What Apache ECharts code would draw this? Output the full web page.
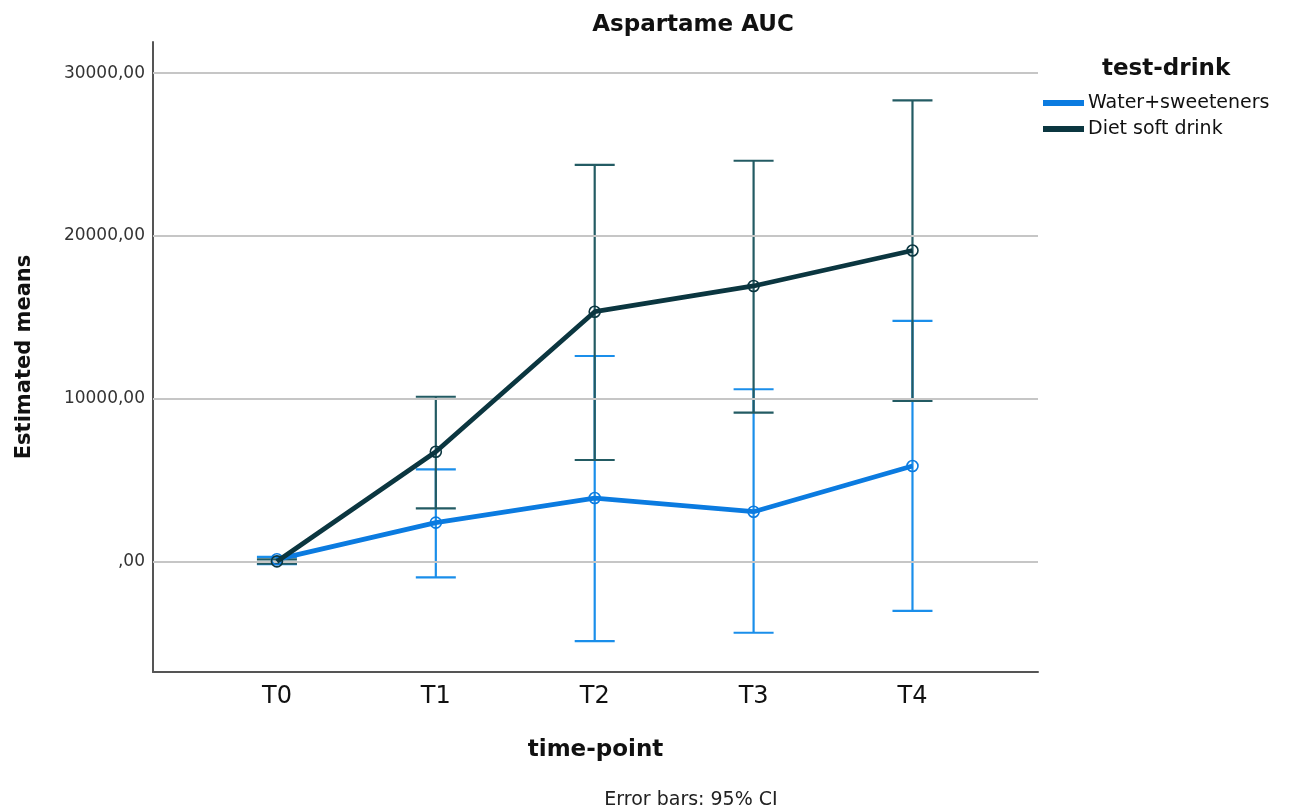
<!DOCTYPE html>
<html>
<head>
<meta charset="utf-8">
<script src="https://cdn.jsdelivr.net/npm/echarts@6/dist/echarts.min.js"></script>
<style>html,body{margin:0;padding:0;background:#fff}#c{width:1292px;height:810px}</style>
</head>
<body>
<div id="c"></div>
<script>
// ---- data ----
const categories = ['T0', 'T1', 'T2', 'T3', 'T4'];
const waterMean = [150, 2400, 3910, 3070, 5880];
const waterLow  = [-150, -960, -4870, -4360, -3020];
const waterHigh = [300, 5670, 12630, 10590, 14790];
const dietMean  = [20, 6755, 15350, 16930, 19110];
const dietLow   = [-120, 3280, 6245, 9150, 9870];
const dietHigh  = [150, 10130, 24360, 24620, 28330];
const yTickValues = [0, 10000, 20000, 30000];
const yTickLabels = [',00', '10000,00', '20000,00', '30000,00'];
const seriesNames = ['Water+sweeteners', 'Diet soft drink'];

const FONT = 'DejaVu Sans';
const waterColor = '#0b7be0';
const waterBarColor = '#1a8eea';
const dietColor = '#0b3640';
const dietBarColor = '#235b63';

const xIdx = categories.map((c, i) => i);

function errData(lo, hi) { return xIdx.map(i => [i, lo[i], hi[i]]); }
function errRender(color) {
  return function (params, api) {
    const x = api.value(0);
    const pLo = api.coord([x, api.value(1)]);
    const pHi = api.coord([x, api.value(2)]);
    const hw = 20;
    const st = { stroke: color, lineWidth: 2.2 };
    return {
      type: 'group',
      children: [
        { type: 'line', shape: { x1: pLo[0], y1: pLo[1], x2: pHi[0], y2: pHi[1] }, style: st },
        { type: 'line', shape: { x1: pLo[0] - hw, y1: pLo[1], x2: pLo[0] + hw, y2: pLo[1] }, style: st },
        { type: 'line', shape: { x1: pHi[0] - hw, y1: pHi[1], x2: pHi[0] + hw, y2: pHi[1] }, style: st }
      ]
    };
  };
}

const chart = echarts.init(document.getElementById('c'), null, { renderer: 'canvas' });
chart.setOption({
  animation: false,
  backgroundColor: '#fff',
  textStyle: { fontFamily: FONT },
  title: [
    { text: 'Aspartame AUC', left: 688, top: 9, textAlign: 'center',
      textStyle: { fontFamily: FONT, fontWeight: 'bold', fontSize: 23, color: '#111' } },
    { text: 'test-drink', left: 1097, top: 53,
      textStyle: { fontFamily: FONT, fontWeight: 'bold', fontSize: 23, color: '#111' } },
    { text: 'Error bars: 95% CI', left: 686, top: 786, textAlign: 'center',
      textStyle: { fontFamily: FONT, fontWeight: 'normal', fontSize: 19, color: '#222' } }
  ],
  legend: {
    orient: 'vertical', left: 1043, top: 93, itemGap: 6, padding: 0,
    itemWidth: 39, itemHeight: 4, icon: 'rect',
    data: [
      { name: seriesNames[0], itemStyle: { color: waterColor } },
      { name: seriesNames[1], itemStyle: { color: dietColor } }
    ],
    textStyle: { fontFamily: FONT, fontSize: 19, color: '#111', lineHeight: 20 }
  },
  grid: { left: 153, right: 254, top: 42, bottom: 138 },
  xAxis: {
    type: 'value', min: -0.78, max: 4.79,
    name: 'time-point', nameLocation: 'middle', nameGap: 67,
    nameTextStyle: { fontFamily: FONT, fontWeight: 'bold', fontSize: 23, color: '#111' },
    axisLine: { show: true, onZero: false, lineStyle: { color: '#555', width: 2 } },
    axisTick: { show: false },
    splitLine: { show: false },
    axisLabel: {
      customValues: xIdx,
      formatter: v => categories[Math.round(v)],
      fontFamily: FONT, fontSize: 24, color: '#111', margin: 13
    }
  },
  yAxis: {
    type: 'value', min: -6770, max: 31910,
    name: 'Estimated means', nameLocation: 'middle', nameGap: 118,
    nameTextStyle: { fontFamily: FONT, fontWeight: 'bold', fontSize: 21, color: '#111' },
    axisLine: { show: true, onZero: false, lineStyle: { color: '#555', width: 2 } },
    axisTick: { show: false },
    splitLine: { show: false },
    axisLabel: {
      customValues: yTickValues,
      formatter: v => yTickLabels[yTickValues.indexOf(v)],
      fontFamily: FONT, fontSize: 17, color: '#333', margin: 8
    }
  },
  series: [
    {
      type: 'line', name: '_grid', data: [], silent: true,
      markLine: {
        symbol: 'none', silent: true, label: { show: false },
        lineStyle: { color: '#c6c6c6', width: 2, type: 'solid' },
        data: yTickValues.map(v => ({ yAxis: v }))
      }
    },
    { type: 'custom', name: 'wErr', renderItem: errRender(waterBarColor), data: errData(waterLow, waterHigh), z: 3, silent: true },
    { type: 'custom', name: 'dErr', renderItem: errRender(dietBarColor), data: errData(dietLow, dietHigh), z: 4, silent: true },
    {
      type: 'line', name: seriesNames[0], data: xIdx.map(i => [i, waterMean[i]]),
      color: waterColor, z: 5,
      lineStyle: { width: 4.8, color: waterColor },
      symbol: 'circle', symbolSize: 11,
      itemStyle: { color: 'rgba(0,0,0,0)', borderColor: waterColor, borderWidth: 1.6 }
    },
    {
      type: 'line', name: seriesNames[1], data: xIdx.map(i => [i, dietMean[i]]),
      color: dietColor, z: 6,
      lineStyle: { width: 4.8, color: dietColor },
      symbol: 'circle', symbolSize: 11,
      itemStyle: { color: 'rgba(0,0,0,0)', borderColor: dietColor, borderWidth: 1.6 }
    }
  ]
});
</script>
</body>
</html>
